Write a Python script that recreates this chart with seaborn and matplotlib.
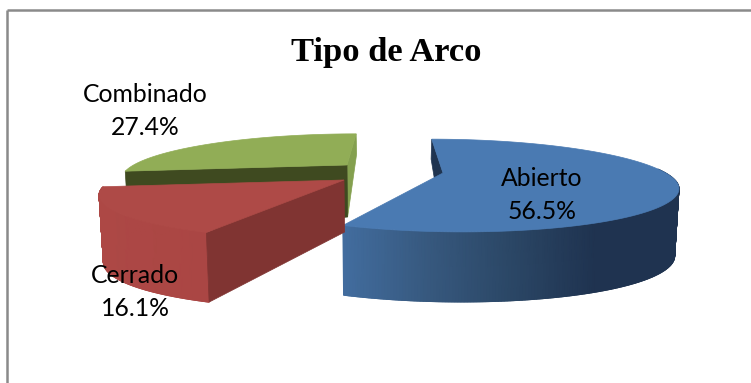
import numpy as np
import matplotlib
matplotlib.use("Agg")
import matplotlib.pyplot as plt
from matplotlib.collections import LineCollection
from matplotlib.colors import LinearSegmentedColormap
from matplotlib.patches import Polygon
import seaborn as sns

# Slice data, clockwise from twelve o'clock
categories = ["Abierto", "Cerrado", "Combinado"]
shares = [56.5, 16.1, 27.4]
chart_title = "Tipo de Arco"

sns.set_theme(style="white")
plt.rcParams["font.family"] = ["Lato", "DejaVu Sans"]

fig, ax = plt.subplots(figsize=(7.51, 3.83), dpi=100)
ax.set_position([0, 0, 1, 1])
ax.axis("off")

# Frame: only the top and left rules fall inside the canvas
frame = "#8a8a8a"
ax.plot([7, 751], [10, 10], color=frame, lw=1.8, solid_capstyle="butt")
ax.plot([7, 7], [10, 383], color=frame, lw=1.8, solid_capstyle="butt")

# Perspective projection of the unit disc
VIEW_X, RX, RY, PERSP = 390.0, 232.0, 43.0, 0.27
APEX_T, RIM_T = 52.0, 66.0
BASE_SQUEEZE = 0.985

# Exploded position of each slice
layout = {
    "Abierto": dict(ox=53, ay=173, sx=0.96, sy=1.0),
    "Cerrado": dict(ox=-46, ay=180, sx=1.0, sy=1.0),
    "Combinado": dict(ox=-43, ay=165, sx=0.92, sy=0.92),
}


def project(cat, theta, radial=1.0):
    """Screen position of a point on a slice's top face (theta clockwise from top)."""
    g = layout[cat]
    u, v = radial * np.sin(theta), -radial * np.cos(theta)
    s = 1.0 / (1.0 - PERSP * v)
    return VIEW_X + (g["ox"] + RX * g["sx"] * u) * s, g["ay"] + RY * g["sy"] * v * s


def rim_depth(theta):
    v = -np.cos(theta)
    return RIM_T + 4 * v if v >= 0 else RIM_T + 46 * v


def drop(x, y, depth):
    return VIEW_X + (x - VIEW_X) * BASE_SQUEEZE, y + depth


def top_face(cat, t0, t1):
    th = np.linspace(t0, t1, 120)
    x, y = project(cat, th)
    ax0, ay0 = project(cat, 0.0, 0.0)
    return np.vstack([[ax0, ay0], np.column_stack([x, y])])


def radial_face(cat, theta):
    ax0, ay0 = project(cat, theta, 0.0)
    x, y = project(cat, theta)
    return [(ax0, ay0), (x, y), drop(x, y, rim_depth(theta)), drop(ax0, ay0, APEX_T)]


def rim_wall(cat, t0, t1, stops):
    """Outer wall: a left-to-right colour ramp on a smooth two-row mesh."""
    th = np.linspace(t0, t1, 200)
    x, y = project(cat, th)
    depth = np.array([rim_depth(t) for t in th])
    bx, by = drop(x, y, depth)
    cmap = LinearSegmentedColormap.from_list(f"wall_{cat}", stops)
    lo, hi = min(x.min(), bx.min()), max(x.max(), bx.max())
    X, Y = np.vstack([x, bx]), np.vstack([y, by])
    ax.pcolormesh(X, Y, X, cmap=cmap, vmin=lo, vmax=hi, shading="gouraud")
    # soften the lower edge of the mesh
    pts = np.column_stack([bx, by]).reshape(-1, 1, 2)
    segs = np.concatenate([pts[:-1], pts[1:]], axis=1)
    line = LineCollection(segs, cmap=cmap, linewidths=0.8)
    line.set_array((bx[:-1] - lo) / (hi - lo))
    line.set_clim(0, 1)
    ax.add_collection(line)


edges = np.radians(np.concatenate([[0.0], np.cumsum(shares) * 3.6]))
spans = {c: (edges[i], edges[i + 1]) for i, c in enumerate(categories)}

# Combinado sits furthest back
t0, t1 = spans["Combinado"]
ax.add_patch(Polygon(radial_face("Combinado", t1), fc="#84a04f", ec="#84a04f", lw=0.5))
ax.add_patch(Polygon(radial_face("Combinado", t0), fc="#3f4a20", ec="#3f4a20", lw=0.5))
ax.add_patch(Polygon(top_face("Combinado", t0, t1), fc="#91ad56", ec="#91ad56", lw=0.5))

# Abierto: inner face, front wall with its shading, then the top
t0, t1 = spans["Abierto"]
ax.add_patch(Polygon(radial_face("Abierto", t0), fc="#1f3450", ec="#1f3450", lw=0.5))
blue_ramp = sns.blend_palette(["#426d9f", "#37597f", "#2b4766", "#1f3350", "#1f3350"], n_colors=5)
rim_wall("Abierto", np.pi * 0.47, t1, blue_ramp)
ax.add_patch(Polygon(top_face("Abierto", t0, t1), fc="#4a7ab2", ec="#4a7ab2", lw=0.5))

# Cerrado comes forward over the green slice
t0, t1 = spans["Cerrado"]
rim_wall("Cerrado", t0, t1, sns.blend_palette(["#ad4845", "#aa4644"], n_colors=3))
ax.add_patch(Polygon(radial_face("Cerrado", t0), fc="#803432", ec="#803432", lw=0.5))
ax.add_patch(Polygon(top_face("Cerrado", t0, t1), fc="#ae4a47", ec="#ae4a47", lw=0.5))

ax.set_xlim(0, 751)
ax.set_ylim(383, 0)

# Slice labels
label_pos = {"Abierto": (542, 195), "Cerrado": (135, 292), "Combinado": (145, 111)}
for cat, share in zip(categories, shares):
    lx, ly = label_pos[cat]
    ax.text(lx, ly, f"{cat}\n{share:.1f}%", ha="center", va="center", fontsize=17.8,
            color="black", linespacing=1.55)

ax.text(386, 52, chart_title, ha="center", va="center", fontsize=24.8, fontweight="bold",
        family="Liberation Serif", color="black")

fig.savefig("out.png", dpi=100, facecolor="white")
